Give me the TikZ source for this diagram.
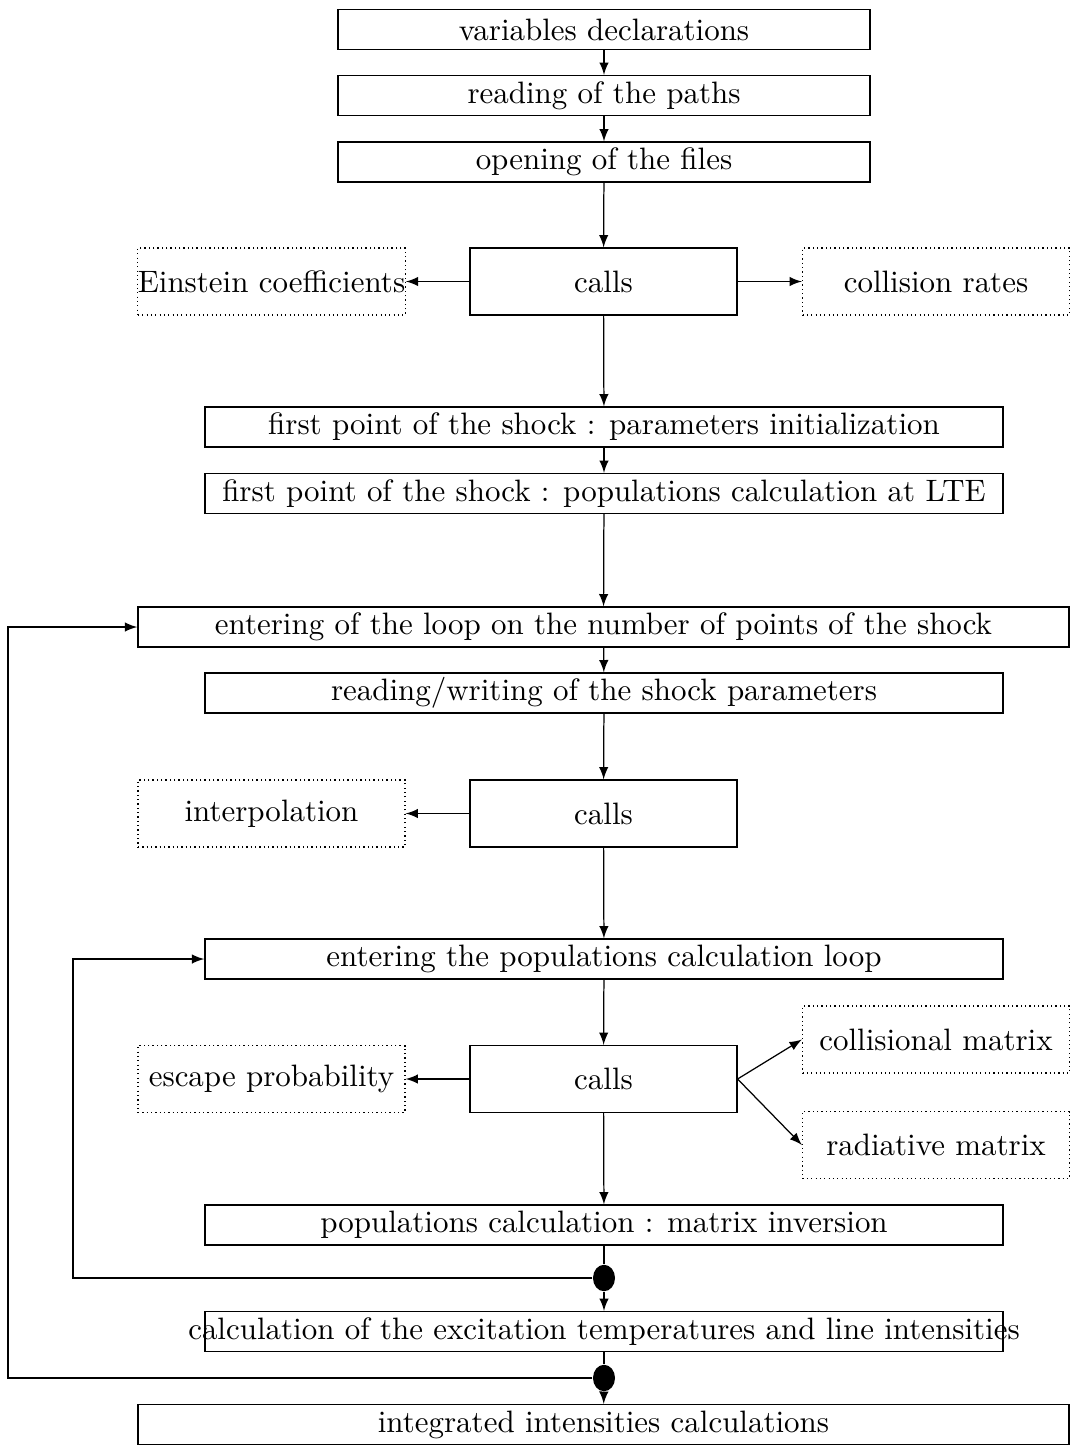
\documentclass[tikz,border=0pt]{standalone}
\usepackage{amsmath}
\usepackage{tikz}
\usetikzlibrary{shapes,calc}

\begin{document}
\begin{tikzpicture}
[x=0.01135cm, y=-0.01135cm, >=latex,
 block/.style={draw, rectangle, minimum height=0.454cm, inner sep=0pt},
 shortbox/.style={block, minimum width=6.04cm},
 midbox/.style={block, minimum width=9.06cm},
 longbox/.style={block, minimum width=10.57cm},
 callbox/.style={draw, rectangle, minimum width=3.03cm, minimum height=0.76cm, inner sep=0pt},
 subbox/.style={callbox, densely dotted},
 junction/.style={ellipse, fill=black, minimum width=0.25cm, minimum height=0.3cm, inner sep=0pt}]

\useasboundingbox (0, 0) rectangle (1077, 1450);

\node (decl) at (604, 29.5) [shortbox] {variables declarations};
\node (paths) at (604, 95.5) [shortbox] {reading of the paths};
\node (files) at (604, 162) [shortbox] {opening of the files};
\node (calls1) at (603.5, 281.5) [callbox] {calls};
\node (einstein) at (271.5, 281.5) [subbox] {Einstein coefficients};
\node (rates) at (936, 281.5) [subbox] {collision rates};
\node (init) at (604, 427) [midbox] {first point of the shock : parameters initialization};
\node (lte) at (604, 493.5) [midbox] {first point of the shock : populations calculation at LTE};
\node (loop) at (603.5, 627) [longbox] {entering of the loop on the number of points of the shock};
\node (shock) at (604, 693) [midbox] {reading/writing of the shock parameters};
\node (calls2) at (603.5, 813.5) [callbox] {calls};
\node (interp) at (271.5, 813.5) [subbox] {interpolation};
\node (poploop) at (604, 959) [midbox] {entering the populations calculation loop};
\node (calls3) at (603.5, 1079) [callbox] {calls};
\node (escape) at (271.5, 1079) [subbox] {escape probability};
\node (collmat) at (936, 1039.5) [subbox] {collisional matrix};
\node (radmat) at (936, 1145) [subbox] {radiative matrix};
\node (inv) at (604, 1225) [midbox] {populations calculation : matrix inversion};
\node (j1) at (604, 1278) [junction] {};
\node (exc) at (604, 1331.5) [midbox] {};
\node (exctext) at (exc) {calculation of the excitation temperatures and line intensities};
\node (j2) at (604, 1378) [junction] {};
\node (integ) at (603.5, 1424.5) [longbox] {integrated intensities calculations};
\coordinate (back1) at (8, 1378);
\coordinate (back2) at (73, 1278);

\draw [->] (decl) -- (paths);
\draw [->] (paths) -- (files);
\draw [->] (files) -- (calls1);
\draw [->] (calls1) -- (einstein);
\draw [->] (calls1) -- (rates);
\draw [->] (calls1) -- (init);
\draw [->] (init) -- (lte);
\draw [->] (lte) -- (loop);
\draw [->] (loop) -- (shock);
\draw [->] (shock) -- (calls2);
\draw [->] (calls2) -- (interp);
\draw [->] (calls2) -- (poploop);
\draw [->] (poploop) -- (calls3);
\draw [->] (calls3) -- (escape);
\draw [->] (calls3.east) -- (collmat.west);
\draw [->] (calls3.east) -- (radmat.west);
\draw [->] (calls3) -- (inv);
\draw (inv) -- (j1);
\draw [->] (j1) -- (exc);
\draw (exc) -- (j2);
\draw [->] (j2) -- (integ);
\draw [->] (j1) -- (back2) |- (poploop);
\draw [->] (j2) -- (back1) |- (loop);
\end{tikzpicture}
\end{document}
